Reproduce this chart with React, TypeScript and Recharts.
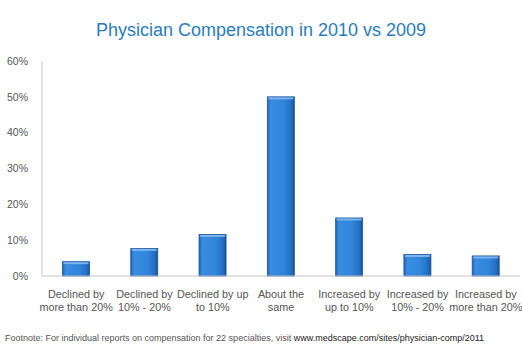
import { BarChart, Bar, XAxis, YAxis } from 'recharts';

const categories = [
  'Declined by\nmore than 20%',
  'Declined by\n10% - 20%',
  'Declined by up\nto 10%',
  'About the\nsame',
  'Increased by\nup to 10%',
  'Increased by\n10% - 20%',
  'Increased by\nmore than 20%',
];
const shares = [4, 7.7, 11.6, 50, 16.2, 6, 5.6];
const yTicks = [0, 10, 20, 30, 40, 50, 60];

const chartData = categories.map((name, i) => ({ name, share: shares[i] }));

const FONT = '"Liberation Sans", Arial, Helvetica, sans-serif';

interface TickProps {
  x?: number;
  y?: number;
  payload?: { value: string };
}

const CategoryTick = ({ x = 0, y = 0, payload }: TickProps) => {
  const lines = (payload?.value ?? '').split('\n');
  return (
    <text x={x} y={y} textAnchor="middle" fill="#555" fontSize={10.8} fontFamily={FONT}>
      {lines.map((line, i) => (
        <tspan key={i} x={x} dy={i === 0 ? 14 : 12.5}>
          {line}
        </tspan>
      ))}
    </text>
  );
};

// bevelled blue bar, lighter in the middle and darker along the edges
const BevelBar = (props: any) => {
  const { x, y, width, height } = props;
  if (!height || height <= 0) return null;
  return (
    <g>
      <rect x={x} y={y} width={width} height={height} fill="url(#barFill)" stroke="#1b56a0" strokeWidth={0.8} />
      <rect x={x + 1} y={y + 0.5} width={width - 2} height={2} fill="#8ec0f2" opacity={0.8} />
    </g>
  );
};

export default function App() {
  return (
    <div
      style={{
        position: 'absolute',
        left: 0,
        top: 0,
        width: 522,
        height: 355,
        background: '#fff',
        fontFamily: FONT,
      }}
    >
      <div
        style={{
          position: 'absolute',
          top: 20,
          left: 0,
          width: 522,
          textAlign: 'center',
          fontSize: 18,
          color: '#2b7bbd',
        }}
      >
        Physician Compensation in 2010 vs 2009
      </div>
      <BarChart
        width={522}
        height={355}
        data={chartData}
        margin={{ top: 61, right: 2, bottom: 39, left: 0 }}
        barCategoryGap="30%"
      >
        <defs>
          <linearGradient id="barFill" x1="0" y1="0" x2="1" y2="0">
            <stop offset="0%" stopColor="#1f62b5" />
            <stop offset="12%" stopColor="#3a8ce0" />
            <stop offset="60%" stopColor="#3086dc" />
            <stop offset="88%" stopColor="#2470c4" />
            <stop offset="100%" stopColor="#184f93" />
          </linearGradient>
        </defs>
        <XAxis
          dataKey="name"
          interval={0}
          height={40}
          tickLine={false}
          axisLine={{ stroke: '#c4c4c4' }}
          tick={<CategoryTick />}
        />
        <YAxis
          width={42}
          domain={[0, 60]}
          ticks={yTicks}
          tickFormatter={(v) => `${v}%`}
          tickLine={false}
          axisLine={{ stroke: '#c4c4c4' }}
          tick={{ fill: '#555', fontSize: 10.5, fontFamily: FONT }}
          tickMargin={8}
        />
        <Bar dataKey="share" shape={<BevelBar />} isAnimationActive={false} />
      </BarChart>
      <div
        style={{
          position: 'absolute',
          top: 333,
          left: 5,
          fontSize: 9,
          color: '#555',
          whiteSpace: 'nowrap',
        }}
      >
        Footnote: For individual reports on compensation for 22 specialties, visit{' '}
        <span style={{ color: '#222' }}>www.medscape.com/sites/physician-comp/2011</span>
      </div>
    </div>
  );
}
